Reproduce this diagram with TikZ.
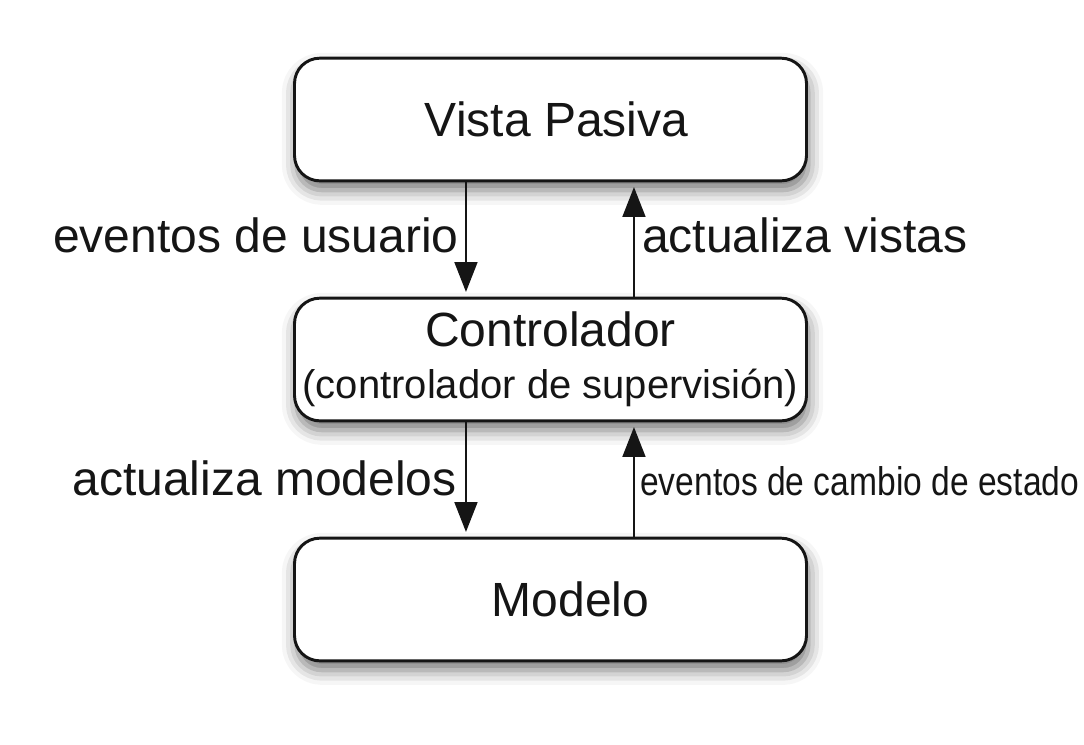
\documentclass[tikz,border=0pt]{standalone}
\usepackage{fontspec}
\setmainfont{Liberation Sans}
\usetikzlibrary{arrows.meta,shadows.blur}
\definecolor{ink}{HTML}{151515}
\begin{document}
\begin{tikzpicture}[x=0.75pt,y=-0.75pt,
  box/.style={draw=ink,line width=2.2pt,rounded corners=19pt,fill=white,
    minimum width=384pt,minimum height=92pt,inner sep=0pt,align=center,
    text=ink,font=\fontsize{36}{43}\selectfont,
    blur shadow={shadow xshift=1.5pt,shadow yshift=-7pt,shadow blur radius=11pt,shadow opacity=55}},
  lbl/.style={inner sep=0pt,text=ink,font=\fontsize{36}{43}\selectfont},
  arr/.style={draw=ink,line width=2.2pt,-{Triangle[length=22.5pt,width=17pt]},shorten >=3.5pt}]
\useasboundingbox (0,0) rectangle (1084,744);
\node[box] (top) at (550.5,119.5) {\hspace*{9pt}Vista Pasiva};
\node[box] (mid) at (550.5,359.5) {Controlador\\[-4pt]{\fontsize{30}{36}\selectfont (controlador de supervisión)}};
\node[box] (bot) at (550.5,599.5) {\hspace*{30pt}Modelo};
\draw[arr] ([xshift=-63.4pt]top.south) -- ([xshift=-63.4pt]mid.north);
\draw[arr] ([xshift=62.6pt]mid.north) -- ([xshift=62.6pt]top.south);
\draw[arr] ([xshift=-63.4pt]mid.south) -- ([xshift=-63.4pt]bot.north);
\draw[arr] ([xshift=62.6pt]bot.north) -- ([xshift=62.6pt]mid.south);
\node[lbl,anchor=base east] (l1) at (459,252) {eventos de usuario};
\node[lbl,anchor=base west] (l2) at (642,252) {actualiza vistas};
\node[lbl,anchor=base east] (l3) at (457,495) {actualiza modelos};
\node[lbl,anchor=base west] (l4) at (640,495) {\scalebox{0.84}[1]{\fontsize{30}{36}\selectfont eventos de cambio de estado}};
\end{tikzpicture}
\end{document}
